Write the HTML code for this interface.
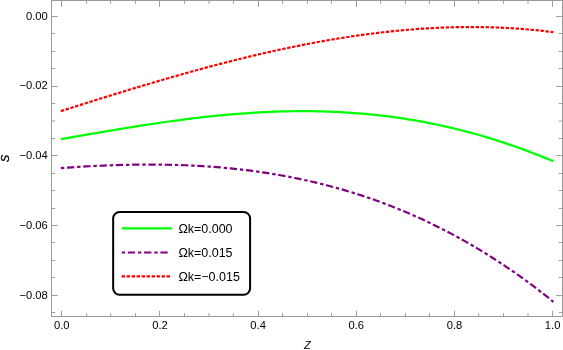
<!DOCTYPE html>
<html><head><meta charset="utf-8"><title>plot</title>
<style>
html,body{margin:0;padding:0;background:#fff;}
body{width:563px;height:350px;overflow:hidden;font-family:"Liberation Sans",sans-serif;}
svg{display:block;}
text{font-family:"Liberation Sans",sans-serif;fill:#000;}
</style></head><body>
<svg width="563" height="350" viewBox="0 0 563 350" style="will-change:transform">

<path d="M60.90,139.16 L64.44,138.54 L67.99,137.92 L71.53,137.30 L75.07,136.68 L78.62,136.06 L82.16,135.45 L85.70,134.83 L89.25,134.22 L92.79,133.61 L96.33,133.00 L99.87,132.39 L103.42,131.78 L106.96,131.18 L110.50,130.58 L114.05,129.99 L117.59,129.40 L121.13,128.82 L124.68,128.24 L128.22,127.66 L131.76,127.09 L135.31,126.52 L138.85,125.97 L142.39,125.41 L145.94,124.87 L149.48,124.33 L153.02,123.80 L156.57,123.27 L160.11,122.75 L163.65,122.24 L167.19,121.74 L170.74,121.25 L174.28,120.77 L177.82,120.29 L181.37,119.82 L184.91,119.37 L188.45,118.92 L192.00,118.48 L195.54,118.06 L199.08,117.64 L202.63,117.24 L206.17,116.84 L209.71,116.46 L213.26,116.09 L216.80,115.72 L220.34,115.38 L223.89,115.04 L227.43,114.72 L230.97,114.41 L234.52,114.11 L238.06,113.82 L241.60,113.55 L245.14,113.29 L248.69,113.05 L252.23,112.81 L255.77,112.60 L259.32,112.40 L262.86,112.21 L266.40,112.03 L269.95,111.88 L273.49,111.73 L277.03,111.61 L280.58,111.49 L284.12,111.40 L287.66,111.32 L291.21,111.25 L294.75,111.20 L298.29,111.17 L301.84,111.16 L305.38,111.16 L308.92,111.18 L312.46,111.22 L316.01,111.27 L319.55,111.34 L323.09,111.43 L326.64,111.54 L330.18,111.66 L333.72,111.80 L337.27,111.97 L340.81,112.15 L344.35,112.34 L347.90,112.56 L351.44,112.80 L354.98,113.05 L358.53,113.33 L362.07,113.62 L365.61,113.94 L369.16,114.27 L372.70,114.62 L376.24,115.00 L379.78,115.39 L383.33,115.80 L386.87,116.24 L390.41,116.69 L393.96,117.17 L397.50,117.66 L401.04,118.18 L404.59,118.72 L408.13,119.27 L411.67,119.85 L415.22,120.45 L418.76,121.08 L422.30,121.72 L425.85,122.38 L429.39,123.07 L432.93,123.78 L436.48,124.51 L440.02,125.26 L443.56,126.03 L447.11,126.83 L450.65,127.65 L454.19,128.49 L457.73,129.35 L461.28,130.24 L464.82,131.15 L468.36,132.08 L471.91,133.03 L475.45,134.00 L478.99,135.00 L482.54,136.02 L486.08,137.07 L489.62,138.14 L493.17,139.23 L496.71,140.34 L500.25,141.47 L503.80,142.63 L507.34,143.82 L510.88,145.02 L514.43,146.25 L517.97,147.50 L521.51,148.78 L525.05,150.08 L528.60,151.40 L532.14,152.75 L535.68,154.11 L539.23,155.51 L542.77,156.92 L546.31,158.36 L549.86,159.83 L553.40,161.31" fill="none" stroke="#00ff00" stroke-width="2.25"/>
<path d="M60.90,168.04 L64.44,167.79 L67.99,167.54 L71.53,167.31 L75.07,167.08 L78.62,166.86 L82.16,166.65 L85.70,166.45 L89.25,166.25 L92.79,166.07 L96.33,165.89 L99.87,165.73 L103.42,165.57 L106.96,165.43 L110.50,165.30 L114.05,165.17 L117.59,165.06 L121.13,164.96 L124.68,164.87 L128.22,164.79 L131.76,164.72 L135.31,164.67 L138.85,164.62 L142.39,164.59 L145.94,164.57 L149.48,164.57 L153.02,164.57 L156.57,164.60 L160.11,164.63 L163.65,164.68 L167.19,164.74 L170.74,164.81 L174.28,164.90 L177.82,165.01 L181.37,165.13 L184.91,165.26 L188.45,165.41 L192.00,165.57 L195.54,165.75 L199.08,165.95 L202.63,166.16 L206.17,166.39 L209.71,166.63 L213.26,166.89 L216.80,167.17 L220.34,167.46 L223.89,167.78 L227.43,168.10 L230.97,168.45 L234.52,168.82 L238.06,169.20 L241.60,169.60 L245.14,170.02 L248.69,170.46 L252.23,170.92 L255.77,171.39 L259.32,171.89 L262.86,172.40 L266.40,172.94 L269.95,173.49 L273.49,174.07 L277.03,174.67 L280.58,175.28 L284.12,175.92 L287.66,176.58 L291.21,177.26 L294.75,177.96 L298.29,178.69 L301.84,179.43 L305.38,180.20 L308.92,180.99 L312.46,181.80 L316.01,182.64 L319.55,183.49 L323.09,184.38 L326.64,185.28 L330.18,186.21 L333.72,187.16 L337.27,188.14 L340.81,189.14 L344.35,190.17 L347.90,191.22 L351.44,192.29 L354.98,193.39 L358.53,194.52 L362.07,195.67 L365.61,196.85 L369.16,198.05 L372.70,199.28 L376.24,200.54 L379.78,201.82 L383.33,203.13 L386.87,204.46 L390.41,205.83 L393.96,207.22 L397.50,208.64 L401.04,210.09 L404.59,211.56 L408.13,213.06 L411.67,214.60 L415.22,216.16 L418.76,217.75 L422.30,219.37 L425.85,221.02 L429.39,222.69 L432.93,224.40 L436.48,226.14 L440.02,227.91 L443.56,229.71 L447.11,231.54 L450.65,233.40 L454.19,235.29 L457.73,237.22 L461.28,239.17 L464.82,241.16 L468.36,243.18 L471.91,245.23 L475.45,247.31 L478.99,249.43 L482.54,251.58 L486.08,253.76 L489.62,255.97 L493.17,258.22 L496.71,260.51 L500.25,262.82 L503.80,265.17 L507.34,267.56 L510.88,269.98 L514.43,272.43 L517.97,274.92 L521.51,277.45 L525.05,280.01 L528.60,282.60 L532.14,285.24 L535.68,287.90 L539.23,290.61 L542.77,293.35 L546.31,296.13 L549.86,298.94 L553.40,301.79" fill="none" stroke="#800080" stroke-width="2.2" stroke-dasharray="3.4 2.7 7.3 2.9"/>
<path d="M60.90,111.14 L64.44,110.01 L67.99,108.88 L71.53,107.75 L75.07,106.63 L78.62,105.50 L82.16,104.38 L85.70,103.26 L89.25,102.15 L92.79,101.03 L96.33,99.92 L99.87,98.81 L103.42,97.71 L106.96,96.60 L110.50,95.50 L114.05,94.41 L117.59,93.32 L121.13,92.23 L124.68,91.14 L128.22,90.06 L131.76,88.99 L135.31,87.92 L138.85,86.85 L142.39,85.79 L145.94,84.73 L149.48,83.68 L153.02,82.63 L156.57,81.59 L160.11,80.55 L163.65,79.52 L167.19,78.49 L170.74,77.47 L174.28,76.46 L177.82,75.45 L181.37,74.45 L184.91,73.45 L188.45,72.46 L192.00,71.48 L195.54,70.50 L199.08,69.53 L202.63,68.57 L206.17,67.62 L209.71,66.67 L213.26,65.73 L216.80,64.80 L220.34,63.87 L223.89,62.96 L227.43,62.05 L230.97,61.15 L234.52,60.26 L238.06,59.38 L241.60,58.50 L245.14,57.63 L248.69,56.78 L252.23,55.93 L255.77,55.09 L259.32,54.26 L262.86,53.44 L266.40,52.63 L269.95,51.83 L273.49,51.04 L277.03,50.26 L280.58,49.49 L284.12,48.73 L287.66,47.98 L291.21,47.24 L294.75,46.52 L298.29,45.80 L301.84,45.09 L305.38,44.40 L308.92,43.72 L312.46,43.04 L316.01,42.38 L319.55,41.74 L323.09,41.10 L326.64,40.47 L330.18,39.86 L333.72,39.26 L337.27,38.68 L340.81,38.10 L344.35,37.54 L347.90,36.99 L351.44,36.45 L354.98,35.93 L358.53,35.42 L362.07,34.93 L365.61,34.44 L369.16,33.98 L372.70,33.52 L376.24,33.08 L379.78,32.65 L383.33,32.24 L386.87,31.85 L390.41,31.46 L393.96,31.09 L397.50,30.74 L401.04,30.40 L404.59,30.08 L408.13,29.77 L411.67,29.48 L415.22,29.21 L418.76,28.95 L422.30,28.70 L425.85,28.47 L429.39,28.26 L432.93,28.06 L436.48,27.89 L440.02,27.72 L443.56,27.58 L447.11,27.45 L450.65,27.34 L454.19,27.24 L457.73,27.16 L461.28,27.10 L464.82,27.06 L468.36,27.04 L471.91,27.03 L475.45,27.04 L478.99,27.07 L482.54,27.12 L486.08,27.19 L489.62,27.27 L493.17,27.38 L496.71,27.50 L500.25,27.64 L503.80,27.80 L507.34,27.98 L510.88,28.18 L514.43,28.40 L517.97,28.64 L521.51,28.90 L525.05,29.18 L528.60,29.48 L532.14,29.80 L535.68,30.14 L539.23,30.50 L542.77,30.89 L546.31,31.29 L549.86,31.71 L553.40,32.16" fill="none" stroke="#ff0000" stroke-width="2.2" stroke-dasharray="3.4 1.6"/>
<g stroke="#9a9a9a" stroke-width="1" fill="none">
<path d="M61.50,316.5 v-5.6 M61.50,0.5 v6.2" stroke="#9e9e9e"/>
<path d="M86.50,316.5 v-3.4 M86.50,0.5 v3.3" stroke="#9e9e9e"/>
<path d="M110.50,316.5 v-3.4 M110.50,0.5 v3.3" stroke="#9e9e9e"/>
<path d="M135.50,316.5 v-3.4 M135.50,0.5 v3.3" stroke="#9e9e9e"/>
<path d="M159.50,316.5 v-5.6 M159.50,0.5 v6.2" stroke="#9e9e9e"/>
<path d="M184.50,316.5 v-3.4 M184.50,0.5 v3.3" stroke="#9e9e9e"/>
<path d="M209.00,316.5 v-3.4 M209.00,0.5 v3.3" stroke="#9e9e9e"/>
<path d="M233.50,316.5 v-3.4 M233.50,0.5 v3.3" stroke="#9e9e9e"/>
<path d="M258.50,316.5 v-5.6 M258.50,0.5 v6.2" stroke="#9e9e9e"/>
<path d="M282.50,316.5 v-3.4 M282.50,0.5 v3.3" stroke="#9e9e9e"/>
<path d="M307.50,316.5 v-3.4 M307.50,0.5 v3.3" stroke="#9e9e9e"/>
<path d="M331.50,316.5 v-3.4 M331.50,0.5 v3.3" stroke="#9e9e9e"/>
<path d="M356.50,316.5 v-5.6 M356.50,0.5 v6.2" stroke="#9e9e9e"/>
<path d="M380.50,316.5 v-3.4 M380.50,0.5 v3.3" stroke="#9e9e9e"/>
<path d="M405.50,316.5 v-3.4 M405.50,0.5 v3.3" stroke="#9e9e9e"/>
<path d="M429.50,316.5 v-3.4 M429.50,0.5 v3.3" stroke="#9e9e9e"/>
<path d="M454.50,316.5 v-5.6 M454.50,0.5 v6.2" stroke="#9e9e9e"/>
<path d="M478.50,316.5 v-3.4 M478.50,0.5 v3.3" stroke="#9e9e9e"/>
<path d="M503.50,316.5 v-3.4 M503.50,0.5 v3.3" stroke="#9e9e9e"/>
<path d="M528.00,316.5 v-3.4 M528.00,0.5 v3.3" stroke="#9e9e9e"/>
<path d="M552.50,316.5 v-5.6 M552.50,0.5 v6.2" stroke="#9e9e9e"/>
<path d="M51.5,16.50 h6.3 M562.5,16.50 h-6.3" stroke="#9e9e9e"/>
<path d="M51.5,33.50 h3.7 M562.5,33.50 h-3.7" stroke="#9e9e9e"/>
<path d="M51.5,51.50 h3.7 M562.5,51.50 h-3.7" stroke="#9e9e9e"/>
<path d="M51.5,68.50 h3.7 M562.5,68.50 h-3.7" stroke="#9e9e9e"/>
<path d="M51.5,86.50 h6.3 M562.5,86.50 h-6.3" stroke="#9e9e9e"/>
<path d="M51.5,103.50 h3.7 M562.5,103.50 h-3.7" stroke="#9e9e9e"/>
<path d="M51.5,121.00 h3.7 M562.5,121.00 h-3.7" stroke="#9e9e9e"/>
<path d="M51.5,138.50 h3.7 M562.5,138.50 h-3.7" stroke="#9e9e9e"/>
<path d="M51.5,155.50 h6.3 M562.5,155.50 h-6.3" stroke="#9e9e9e"/>
<path d="M51.5,173.50 h3.7 M562.5,173.50 h-3.7" stroke="#9e9e9e"/>
<path d="M51.5,190.50 h3.7 M562.5,190.50 h-3.7" stroke="#9e9e9e"/>
<path d="M51.5,208.50 h3.7 M562.5,208.50 h-3.7" stroke="#9e9e9e"/>
<path d="M51.5,225.50 h6.3 M562.5,225.50 h-6.3" stroke="#9e9e9e"/>
<path d="M51.5,242.50 h3.7 M562.5,242.50 h-3.7" stroke="#9e9e9e"/>
<path d="M51.5,260.50 h3.7 M562.5,260.50 h-3.7" stroke="#9e9e9e"/>
<path d="M51.5,277.50 h3.7 M562.5,277.50 h-3.7" stroke="#9e9e9e"/>
<path d="M51.5,295.50 h6.3 M562.5,295.50 h-6.3" stroke="#9e9e9e"/>
<path d="M51.5,312.50 h3.7 M562.5,312.50 h-3.7" stroke="#9e9e9e"/>
<rect x="51.5" y="0.5" width="511.0" height="316.0"/>
</g>
<g font-size="11.2px">
<text x="61.80" y="329.2" text-anchor="middle">0.0</text>
<text x="159.96" y="329.2" text-anchor="middle">0.2</text>
<text x="258.12" y="329.2" text-anchor="middle">0.4</text>
<text x="356.28" y="329.2" text-anchor="middle">0.6</text>
<text x="454.44" y="329.2" text-anchor="middle">0.8</text>
<text x="552.60" y="329.2" text-anchor="middle">1.0</text>
<text x="47.75" y="19.74" text-anchor="end">0.00</text>
<text x="47.75" y="89.48" text-anchor="end">−0.02</text>
<text x="47.75" y="159.22" text-anchor="end">−0.04</text>
<text x="47.75" y="228.96" text-anchor="end">−0.06</text>
<text x="47.75" y="298.70" text-anchor="end">−0.08</text>
<text x="307.5" y="348.6" text-anchor="middle" font-style="italic">Z</text>
<text transform="translate(8.9,158.4) rotate(-90)" text-anchor="middle" font-style="italic" stroke="#000" stroke-width="0.35">S</text>
</g>
<rect x="113.15" y="212" width="136.95" height="82.8" rx="6.5" ry="6.5" fill="#fff" stroke="#000" stroke-width="2"/>
<path d="M121.8,228.3 H172.0" stroke="#00ff00" stroke-width="2.25" fill="none"/>
<path d="M121.7,252.5 H167.9" stroke="#800080" stroke-width="2.2" stroke-dasharray="3.4 2.7 7.3 2.9" fill="none"/>
<path d="M121.6,276.3 H170.0" stroke="#ff0000" stroke-width="2.2" stroke-dasharray="3.4 1.6" fill="none"/>
<g font-size="12.5px">
<text x="178.4" y="233.3">Ωk=0.000</text>
<text x="178.4" y="257.2">Ωk=0.015</text>
<text x="178.4" y="280.8">Ωk=−0.015</text>
</g>
</svg></body></html>
